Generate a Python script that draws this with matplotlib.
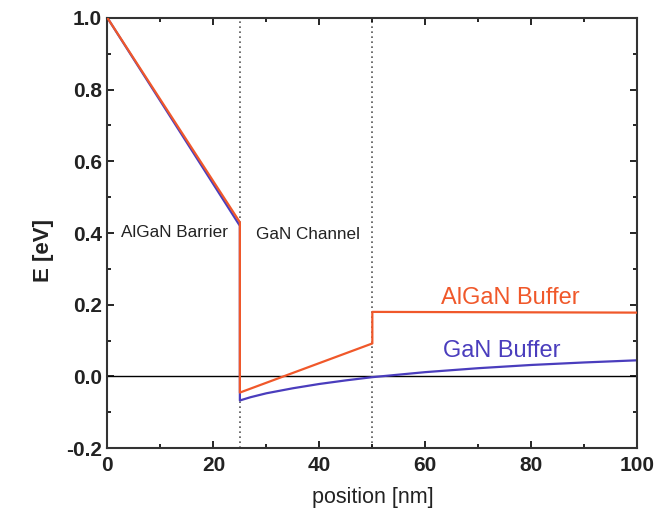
import numpy as np
import matplotlib
matplotlib.use("Agg")
from matplotlib import pyplot as plt
from matplotlib.ticker import MultipleLocator

# Band edge data
algan_x = [0, 25, 25, 50, 50, 100]
algan_e = [1.0, 0.43, -0.045, 0.092, 0.18, 0.178]

gan_x = [0, 25, 25, 27, 30, 35, 40, 45, 50, 60, 70, 80, 90, 100]
gan_e = [1.0, 0.42, -0.067, -0.058, -0.047, -0.033, -0.021, -0.011, -0.002, 0.012, 0.023, 0.032, 0.039, 0.045]

boundaries = [25, 50]

orange = "#f0582a"
blue = "#4a3dbd"

plt.rcParams['font.family'] = ['Liberation Sans', 'DejaVu Sans']
plt.rcParams['axes.unicode_minus'] = False

fig = plt.figure(figsize=(6.59, 5.11), dpi=100)
ax = fig.add_axes([0.163, 0.123, 0.804, 0.842])

ax.axhline(0, color="black", lw=1.0, zorder=1)
for b in boundaries:
    ax.axvline(b, color="#555555", lw=1.2, ls=(0, (1, 2)), zorder=1)

ax.plot(gan_x, gan_e, color=blue, lw=1.6, zorder=2)
ax.plot(algan_x, algan_e, color=orange, lw=1.6, zorder=3)

ax.text(2.6, 0.402, "AlGaN Barrier", fontsize=12.3, color="#222222", va="center")
ax.text(28, 0.396, "GaN Channel", fontsize=12.3, color="#222222", va="center")
ax.text(63, 0.22, "AlGaN Buffer", fontsize=17, color=orange, va="center")
ax.text(63.3, 0.07, "GaN Buffer", fontsize=17, color=blue, va="center")

ax.set_xlim(0, 100)
ax.set_ylim(-0.2, 1.0)
ax.xaxis.set_major_locator(MultipleLocator(20))
ax.xaxis.set_minor_locator(MultipleLocator(10))
ax.yaxis.set_major_locator(MultipleLocator(0.2))
ax.yaxis.set_minor_locator(MultipleLocator(0.1))
ax.tick_params(which="both", direction="in", top=True, right=True, width=1.2)
ax.tick_params(which="major", length=5, labelsize=15)
ax.tick_params(which="minor", length=3)
ax.tick_params(axis="x", pad=6)
ax.tick_params(axis="y", pad=4)
for lab in ax.get_xticklabels() + ax.get_yticklabels():
    lab.set_fontweight("bold")
    lab.set_color("#222222")
for sp in ax.spines.values():
    sp.set_linewidth(1.5)
    sp.set_color("#333333")

ax.set_xlabel("position [nm]", fontsize=15.5, color="#222222", labelpad=8)
ax.set_ylabel("E [eV]", fontsize=16, fontweight="bold", color="#222222")
ax.yaxis.set_label_coords(-0.1, 0.46)

fig.savefig("out.png", dpi=100)
